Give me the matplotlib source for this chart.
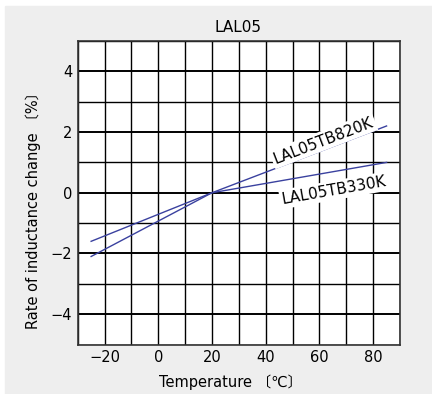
import matplotlib
matplotlib.use("Agg")
import matplotlib.pyplot as plt
from matplotlib.patches import Rectangle
from matplotlib.ticker import MultipleLocator

plt.rcParams["font.family"] = ["DejaVu Sans", "Noto Sans CJK JP"]

temp = [-25, 20, 85]
tb820k = [-2.1, 0.0, 2.2]
tb330k = [-1.6, 0.0, 1.0]
line_color = "#3a419f"

fig = plt.figure(figsize=(4.32, 3.94), dpi=100, facecolor="white")
fig.patches.append(Rectangle((5 / 432, 0), 1, 1 - 6 / 394, transform=fig.transFigure,
                             color="#eeeeee", zorder=-10))
ax = fig.add_axes([77.7 / 432, 1 - 344.5 / 394, (400 - 77.7) / 432, (344.5 - 41) / 394])
ax.set_facecolor("white")

ax.plot(temp, tb820k, color=line_color, lw=1.0, zorder=3)
ax.plot(temp, tb330k, color=line_color, lw=1.0, zorder=3)

ax.text(61.5, 1.72, "LAL05TB820K", rotation=21, ha="center", va="center", fontsize=11,
        bbox=dict(facecolor="white", edgecolor="none", pad=1.5), zorder=4)
ax.text(65.5, 0.08, "LAL05TB330K", rotation=10, ha="center", va="center", fontsize=11,
        bbox=dict(facecolor="white", edgecolor="none", pad=1.5), zorder=4)

ax.set_xlim(-30, 90)
ax.set_ylim(-5, 5)
ax.xaxis.set_major_locator(MultipleLocator(20))
ax.xaxis.set_minor_locator(MultipleLocator(10))
ax.yaxis.set_major_locator(MultipleLocator(2))
ax.yaxis.set_minor_locator(MultipleLocator(1))
ax.grid(which="minor", color="black", lw=1.0)
ax.grid(which="major", axis="x", color="black", lw=1.0)
ax.grid(which="major", axis="y", color="black", lw=1.4)
ax.set_axisbelow(True)
ax.tick_params(which="both", length=0, labelsize=10.5, pad=4)
for s in ax.spines.values():
    s.set_color("#333333")
    s.set_linewidth(1.2)

fig.text(238 / 432, 1 - 27 / 394, "LAL05", fontsize=11, ha="center", va="center")
fig.text(231 / 432, 1 - 382 / 394, "Temperature 〔℃〕", fontsize=10.5, ha="center", va="center")
fig.text(33 / 432, 1 - 206.5 / 394, "Rate of inductance change 〔%〕", fontsize=10.5,
         rotation=90, ha="center", va="center")

fig.savefig("out.png", dpi=100, facecolor=fig.get_facecolor())
